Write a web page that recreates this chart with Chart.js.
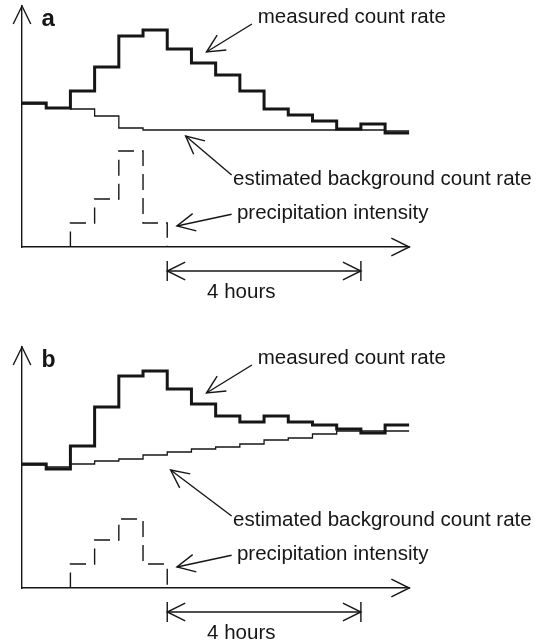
<!DOCTYPE html>
<html>
<head>
<meta charset="utf-8">
<script src="https://cdn.jsdelivr.net/npm/chart.js@4.4.1/dist/chart.umd.min.js"></script>
<style>
    html, body { margin: 0; padding: 0; background: #fff; }
    #wrap { position: relative; width: 544px; height: 644px; overflow: hidden; }
    canvas { position: absolute; left: 0; }
    #panel-a { top: 0; }
    #panel-b { top: 341px; }
</style>
</head>
<body>
<div id="wrap">
    <canvas id="panel-a" width="544" height="303"></canvas>
    <canvas id="panel-b" width="544" height="303"></canvas>
</div>
<script>
// start of each half-hour interval (hours), and end of the record
const hours = [0, 0.5, 1, 1.5, 2, 2.5, 3, 3.5, 4, 4.5, 5, 5.5, 6, 6.5, 7, 7.5];
const endHour = 8;

// panel a (arbitrary units)
const measuredA = [144, 139, 156, 180, 211, 217, 198, 184, 172, 156, 138, 132, 126, 118, 123, 114];
const backgroundA = [143, 139, 138, 131, 119, 117, 117, 117, 117, 117, 117, 117, 117, 117, 117, 116];
const precipA = [0, 0, 24, 48, 96, 24, 0, 0, 0, 0, 0, 0, 0, 0, 0, 0];

// panel b
const measuredB = [124, 119, 142, 181, 212, 217, 199, 184, 172, 166, 172, 166, 163, 159, 155, 163];
const backgroundB = [123, 121, 124, 127, 129, 133, 136, 139, 141, 144, 148, 150, 154, 157, 157, 157];
const precipB = [0, 0, 24, 48, 69, 24, 0, 0, 0, 0, 0, 0, 0, 0, 0, 0];

const ink = '#161616';
const textFont = '20.5px "Liberation Sans", Arial, Helvetica, sans-serif';

function steps(values) {
    const pts = values.map((v, i) => ({x: hours[i], y: v}));
    pts.push({x: endHour, y: values[values.length - 1]});
    return pts;
}

function arrowHead(ctx, tipX, tipY, angle) {
    const len = 20, spread = 26 * Math.PI / 180;
    ctx.beginPath();
    ctx.moveTo(tipX - len * Math.cos(angle - spread), tipY - len * Math.sin(angle - spread));
    ctx.lineTo(tipX, tipY);
    ctx.lineTo(tipX - len * Math.cos(angle + spread), tipY - len * Math.sin(angle + spread));
    ctx.stroke();
}

function arrow(ctx, x1, y1, x2, y2) {
    ctx.beginPath();
    ctx.moveTo(x1, y1);
    ctx.lineTo(x2, y2);
    ctx.stroke();
    arrowHead(ctx, x2, y2, Math.atan2(y2 - y1, x2 - x1));
}

// axis arrows, labels and the "4 hours" bracket
const annotations = {
    id: 'annotations',
    afterDraw(chart, args, opts) {
        const {ctx, chartArea: area} = chart;
        const px = v => chart.scales.x.getPixelForValue(v);
        const py = v => chart.scales.y.getPixelForValue(v);
        ctx.save();
        ctx.strokeStyle = ink;
        ctx.fillStyle = ink;
        ctx.lineWidth = 1.4;
        ctx.lineCap = 'butt';

        arrowHead(ctx, area.left, area.top, -Math.PI / 2);
        arrowHead(ctx, area.right, area.bottom, 0);

        ctx.font = 'bold ' + opts.letterSize + 'px "Liberation Sans", Arial, sans-serif';
        ctx.textAlign = 'left';
        ctx.textBaseline = 'alphabetic';
        ctx.fillText(opts.letter, area.left + 19.5, 26);

        ctx.font = textFont;
        ctx.fillText('measured count rate', px(4.87), py(224));
        arrow(ctx, px(4.75), py(223), px(3.81), py(195));

        ctx.fillText('estimated background count rate', px(4.36), py(62));
        arrow(ctx, px(4.33), py(72), px(opts.bgTip[0]), py(opts.bgTip[1]));

        ctx.fillText('precipitation intensity', px(4.44), py(28));
        arrow(ctx, px(4.33), py(32.7), px(3.2), py(21));

        // 4 hours span
        const x1 = px(3), x2 = px(7), yb = py(-24);
        ctx.beginPath();
        ctx.moveTo(x1, yb - 10); ctx.lineTo(x1, yb + 10);
        ctx.moveTo(x2, yb - 10); ctx.lineTo(x2, yb + 10);
        ctx.moveTo(x1, yb); ctx.lineTo(x2, yb);
        ctx.stroke();
        arrowHead(ctx, x1, yb, Math.PI);
        arrowHead(ctx, x2, yb, 0);
        ctx.textAlign = 'center';
        ctx.fillText('4 hours', px(4.53), py(-51));
        ctx.restore();
    }
};

function makePanel(id, letter, letterSize, measured, background, precip, bgTip) {
    return new Chart(document.getElementById(id), {
        type: 'line',
        data: {
            datasets: [
                {
                    label: 'measured count rate',
                    data: steps(measured),
                    borderColor: ink,
                    borderWidth: 3,
                    stepped: 'before',
                    pointRadius: 0,
                    fill: false,
                    order: 0
                },
                {
                    label: 'estimated background count rate',
                    data: steps(background),
                    borderColor: ink,
                    borderWidth: 1.3,
                    stepped: 'before',
                    pointRadius: 0,
                    fill: false,
                    order: 1
                },
                {
                    label: 'precipitation intensity',
                    data: steps(precip),
                    borderColor: ink,
                    borderWidth: 1.4,
                    borderDash: [16, 8],
                    stepped: 'before',
                    pointRadius: 0,
                    fill: false,
                    order: 2
                }
            ]
        },
        options: {
            responsive: false,
            animation: false,
            devicePixelRatio: 1,
            layout: {padding: {left: 22, top: 6, right: 134.7, bottom: 56}},
            scales: {
                x: {
                    type: 'linear', min: 0, max: endHour,
                    ticks: {display: false},
                    grid: {display: false, drawTicks: false},
                    border: {display: true, color: ink, width: 1.4}
                },
                y: {
                    min: 0, max: 241,
                    ticks: {display: false},
                    grid: {display: false, drawTicks: false},
                    border: {display: true, color: ink, width: 1.4}
                }
            },
            plugins: {
                legend: {display: false},
                tooltip: {enabled: false},
                annotations: {letter: letter, letterSize: letterSize, bgTip: bgTip}
            }
        },
        plugins: [annotations]
    });
}

makePanel('panel-a', 'a', 24, measuredA, backgroundA, precipA, [3.38, 111]);
makePanel('panel-b', 'b', 23, measuredB, backgroundB, precipB, [3.07, 118]);
</script>
</body>
</html>
